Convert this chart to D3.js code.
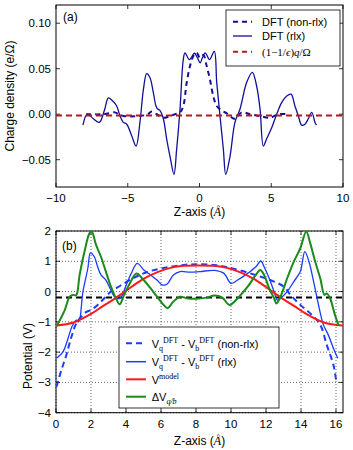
<!DOCTYPE html>
<html>
<head>
<meta charset="utf-8">
<script src="https://cdn.jsdelivr.net/npm/d3@7"></script>
<style>
  body { margin: 0; background: #fff; }
  text { font-family: "Liberation Sans", Arial, sans-serif; fill: #000; }
  .tick-label { font-size: 11.5px; }
  .axis-label { font-size: 12px; }
  .legend-text { font-size: 11px; }
  .math { font-family: "Liberation Serif", "DejaVu Serif", serif; }
</style>
</head>
<body>
<div id="wrapper"></div>
<script>
// ---- panel (a): charge density ----
const rlxZ = [-8.12, -7.82, -7.4, -6.98, -6.63, -6.35, -6.08, -5.77, -5.54, -5.31, -5.07, -4.72, -4.42, -4.15, -3.91, -3.68, -3.45, -3.22, -2.98, -2.75, -2.52, -2.29, -2.06, -1.78, -1.59, -1.36, -1.13, -1.01, -0.7, -0.35, -0.15, 0.05, 0.2, 0.4, 0.7, 1.03, 1.2, 1.43, 1.66, 1.83, 2.13, 2.47, 2.82, 3.29, 3.68, 3.98, 4.22, 4.45, 4.68, 5.03, 5.38, 5.73, 6.08, 6.38, 6.65, 6.89, 7.12, 7.35, 7.58, 7.82, 8.05, 8.15]
const rlxRho = [-0.012, 0.0, -0.005, -0.009, 0.004, 0.018, 0.015, 0.009, -0.002, -0.009, -0.011, -0.024, -0.035, -0.009, 0.027, 0.0445, 0.040, 0.024, 0.007, 0.004, -0.005, -0.027, -0.046, -0.066, -0.038, 0.005, 0.06, 0.0675, 0.060, 0.067, 0.062, 0.0565, 0.062, 0.0675, 0.060, 0.069, 0.035, -0.002, -0.038, -0.066, -0.046, -0.009, 0.0055, 0.035, 0.046, 0.031, 0.0055, -0.035, -0.027, -0.015, 0.0, 0.013, 0.02, 0.022, 0.009, -0.002, -0.012, -0.011, -0.005, 0.002, -0.009, -0.012]
const nonRlxZ = [-7.9, -6.7, -5.89, -5.65, -5.3, -4.15, -3.6, -3.33, -2.98, -2.52, -2.06, -1.71, -1.36, -1.13, -0.89, -0.66, -0.43, -0.2, 0.03, 0.27, 0.5, 0.73, 0.96, 1.2, 1.55, 1.9, 2.4, 2.59, 2.94, 3.52, 4.2, 4.91, 5.5, 6.1]
const nonRlxRho = [0.0, 0.0, 0.002, 0.0, -0.002, -0.002, 0.0, 0.003, 0.0, -0.004, -0.002, 0.0, 0.002, 0.009, 0.035, 0.053, 0.064, 0.0675, 0.062, 0.065, 0.053, 0.038, 0.02, 0.009, 0.004, 0.001, -0.005, -0.004, 0.002, 0.0, -0.002, -0.004, 0.0, 0.0]
const modelRho = -0.0015
const rhoXTicks = [-10, -5, 0, 5, 10]
const rhoYTicks = [-0.05, 0.0, 0.05, 0.10]

// ---- panel (b): potential ----
const potNonRlxZ = [0.03, 0.31, 0.59, 0.88, 1.16, 1.44, 1.72, 2.0, 2.38, 2.76, 3.14, 3.7, 4.27, 4.8, 5.4, 6.34, 7.28, 8.03, 9.07, 9.82, 10.76, 11.7, 12.46, 13.02, 13.4, 13.96, 14.53, 15.1, 15.47, 15.85, 16.03]
const potNonRlxV = [-3.14, -2.59, -2.1, -1.5, -1.05, -0.83, -0.68, -0.61, -0.44, -0.22, 0.0, 0.2, 0.4, 0.55, 0.68, 0.8, 0.88, 0.9, 0.88, 0.8, 0.66, 0.49, 0.33, 0.16, -0.11, -0.44, -0.72, -1.1, -1.76, -2.42, -3.03]
const potRlxZ = [0.03, 0.41, 0.69, 0.91, 1.16, 1.3, 1.54, 1.82, 1.97, 2.19, 2.38, 2.57, 2.85, 3.14, 3.42, 3.7, 4.0, 4.3, 4.64, 5.02, 5.4, 5.77, 6.06, 6.34, 6.71, 7.09, 7.66, 8.22, 9.07, 9.6, 10.0, 10.38, 10.95, 11.42, 11.7, 11.89, 12.18, 12.46, 12.64, 12.83, 13.21, 13.59, 13.96, 14.22, 14.45, 14.72, 15.0, 15.28, 15.56, 15.85, 16.1]
const potRlxV = [-2.2, -1.98, -1.54, -1.16, -0.94, -1.0, 0.0, 0.77, 1.28, 1.15, 0.82, 0.55, 0.38, 0.05, -0.22, -0.2, 0.2, 0.6, 0.93, 0.71, 0.55, 0.38, 0.22, 0.24, 0.55, 0.66, 0.64, 0.66, 0.7, 0.6, 0.27, 0.38, 0.6, 0.82, 1.01, 0.82, 0.44, 0.0, -0.28, -0.22, 0.0, 0.33, 0.66, 1.32, 1.0, 0.33, -0.44, -1.1, -1.43, -1.87, -2.2]
const modelZ = [0, 1, 2, 2.7, 3.45, 4.3, 5.0, 5.8, 6.6, 7.4, 8.15, 8.9, 9.7, 10.5, 11.3, 12.0, 12.85, 13.6, 14.3, 15.3, 16.4]
const modelV = [-1.12, -1.02, -0.74, -0.47, -0.2, 0.15, 0.42, 0.64, 0.79, 0.85, 0.86, 0.85, 0.79, 0.64, 0.42, 0.15, -0.2, -0.47, -0.74, -1.02, -1.12]
const deltaZ = [0.03, 0.5, 0.78, 0.97, 1.15, 1.35, 1.63, 1.91, 2.04, 2.29, 2.57, 2.85, 3.14, 3.42, 3.64, 3.89, 4.17, 4.6, 4.92, 5.4, 5.77, 6.15, 6.38, 6.71, 7.09, 7.47, 8.03, 8.6, 9.07, 9.5, 9.92, 10.38, 10.95, 11.42, 11.67, 11.89, 12.18, 12.46, 12.6, 12.83, 13.21, 13.59, 13.96, 14.3, 14.53, 14.81, 15.1, 15.34, 15.47, 15.66, 15.94, 16.13]
const deltaV = [-1.15, -0.61, -0.17, -0.11, -0.12, 0.55, 1.32, 1.92, 1.98, 1.54, 1.15, 0.66, 0.16, -0.22, -0.42, -0.11, 0.22, 0.6, 0.44, 0.11, -0.17, -0.44, -0.55, -0.33, -0.17, -0.22, -0.24, -0.2, -0.13, -0.2, -0.44, -0.22, 0.16, 0.55, 0.71, 0.55, 0.11, -0.22, -0.39, -0.17, 0.44, 0.99, 1.43, 1.98, 1.59, 0.99, 0.44, -0.11, -0.06, -0.22, -0.77, -1.1]
const alignV = -0.2
const potXTicks = [0, 2, 4, 6, 8, 10, 12, 14, 16]
const potYTicks = [-4, -3, -2, -1, 0, 1, 2]

function drawChart() {
  const width = 353
  const height = 450

  const svg = d3.select("#wrapper")
    .append("svg")
      .attr("width", width)
      .attr("height", height)

  const zip = (xs, ys) => xs.map((x, i) => [x, ys[i]])

  // adds text made of pieces: normal, serif, sub and sup
  function richText(sel, parts) {
    let shift = 0
    parts.forEach(p => {
      const target = p.sub ? 3 : p.sup ? -5 : 0
      const t = sel.append("tspan").text(p.t).attr("dy", target - shift)
      shift = target
      if (p.serif) t.attr("class", "math")
      if (p.italic) t.style("font-style", "italic")
      if (p.size) t.style("font-size", p.size + "px")
    })
  }

  function drawFrame(g, x, y, xTicks, yTicks, xFmt, yFmt, grid) {
    const [x0, x1] = x.range()
    const [y0, y1] = y.range()
    if (grid) {
      g.append("g").selectAll("line").data(xTicks).join("line")
        .attr("x1", d => x(d)).attr("x2", d => x(d))
        .attr("y1", y1).attr("y2", y0)
        .attr("stroke", "#000").attr("stroke-width", 0.6)
        .attr("stroke-dasharray", "1,2")
      g.append("g").selectAll("line").data(yTicks).join("line")
        .attr("x1", x0).attr("x2", x1)
        .attr("y1", d => y(d)).attr("y2", d => y(d))
        .attr("stroke", "#000").attr("stroke-width", 0.6)
        .attr("stroke-dasharray", "1,2")
    }
    const tk = 4
    g.append("g").selectAll("path").data(xTicks).join("path")
      .attr("d", d => `M${x(d)},${y0}v${-tk}M${x(d)},${y1}v${tk}`)
      .attr("stroke", "#000").attr("stroke-width", 0.8)
    g.append("g").selectAll("path").data(yTicks).join("path")
      .attr("d", d => `M${x0},${y(d)}h${tk}M${x1},${y(d)}h${-tk}`)
      .attr("stroke", "#000").attr("stroke-width", 0.8)
    g.append("rect")
      .attr("x", x0).attr("y", y1)
      .attr("width", x1 - x0).attr("height", y0 - y1)
      .attr("fill", "none").attr("stroke", "#000").attr("stroke-width", 1)
    g.append("g").selectAll("text").data(xTicks).join("text")
      .attr("class", "tick-label")
      .attr("x", d => x(d)).attr("y", y0 + 15)
      .attr("text-anchor", "middle")
      .text(xFmt)
    g.append("g").selectAll("text").data(yTicks).join("text")
      .attr("class", "tick-label")
      .attr("x", x0 - 5).attr("y", d => y(d) + 4)
      .attr("text-anchor", "end")
      .text(yFmt)
  }

  const minus = s => s.replace("-", "\u2212")
  const line = (x, y) => d3.line()
    .x(d => x(d[0])).y(d => y(d[1]))
    .curve(d3.curveCatmullRom.alpha(0.5))

  // ---------- (a) ----------
  const xA = d3.scaleLinear().domain([-10, 10]).range([56, 343])
  const yA = d3.scaleLinear().domain([-0.08, 0.12]).range([187, 5])
  const gA = svg.append("g")

  svg.append("defs").append("clipPath").attr("id", "clipA")
    .append("rect").attr("x", 56).attr("y", 5).attr("width", 287).attr("height", 182)

  drawFrame(gA, xA, yA, rhoXTicks, rhoYTicks,
    d => minus(String(d)), d => minus(d3.format(".2f")(d)), false)

  const plotA = gA.append("g").attr("clip-path", "url(#clipA)")
  const navy = "#10109a"
  plotA.append("path")
    .attr("d", line(xA, yA)(zip(nonRlxZ, nonRlxRho)))
    .attr("fill", "none").attr("stroke", navy).attr("stroke-width", 2)
    .attr("stroke-dasharray", "5,4")
  plotA.append("path")
    .attr("d", line(xA, yA)(zip(rlxZ, rlxRho)))
    .attr("fill", "none").attr("stroke", navy).attr("stroke-width", 1.3)
  plotA.append("path")
    .attr("d", line(xA, yA)([[-10, modelRho], [10, modelRho]]))
    .attr("fill", "none").attr("stroke", "#b01c1c").attr("stroke-width", 2)
    .attr("stroke-dasharray", "6,4")

  gA.append("text").attr("class", "axis-label").attr("x", 63).attr("y", 21).text("(a)")
  gA.append("text").attr("class", "axis-label")
    .attr("transform", "translate(14,96) rotate(-90)")
    .attr("text-anchor", "middle")
    .text("Charge density (e/\u03a9)")
  const xlabA = gA.append("text").attr("class", "axis-label")
    .attr("x", 199.5).attr("y", 216).attr("text-anchor", "middle")
  richText(xlabA, [{t: "Z-axis ("}, {t: "\u00c5", serif: true, italic: true}, {t: ")"}])

  // legend (a)
  const legA = gA.append("g")
  legA.append("rect").attr("x", 226).attr("y", 10).attr("width", 114).attr("height", 56)
    .attr("fill", "#fff").attr("stroke", "#000").attr("stroke-width", 0.8)
  const legAItems = [
    {y: 21.7, color: navy, dash: "5,4", w: 2},
    {y: 36, color: navy, dash: null, w: 1.3},
    {y: 51.7, color: "#b01c1c", dash: "5,4", w: 2},
  ]
  legA.selectAll("line").data(legAItems).join("line")
    .attr("x1", 233).attr("x2", 252)
    .attr("y1", d => d.y).attr("y2", d => d.y)
    .attr("stroke", d => d.color).attr("stroke-width", d => d.w)
    .attr("stroke-dasharray", d => d.dash)
  legA.append("text").attr("class", "legend-text").attr("x", 262).attr("y", 25.5).text("DFT (non-rlx)")
  legA.append("text").attr("class", "legend-text").attr("x", 262).attr("y", 40).text("DFT (rlx)")
  const lA3 = legA.append("text").attr("class", "legend-text math").attr("x", 262).attr("y", 55.5)
  richText(lA3, [
    {t: "(1\u22121/", serif: true}, {t: "\u03f5", serif: true, italic: true},
    {t: ")", serif: true}, {t: "q", serif: true, italic: true}, {t: "/\u03a9", serif: true}
  ])

  // ---------- (b) ----------
  const xB = d3.scaleLinear().domain([0, 16.4]).range([56, 343])
  const yB = d3.scaleLinear().domain([-4, 2]).range([412.7, 231])
  const gB = svg.append("g")

  svg.select("defs").append("clipPath").attr("id", "clipB")
    .append("rect").attr("x", 56).attr("y", 231).attr("width", 287).attr("height", 181.7)

  drawFrame(gB, xB, yB, potXTicks, potYTicks,
    d => String(d), d => minus(String(d)), true)

  const plotB = gB.append("g").attr("clip-path", "url(#clipB)")
  const blue = "#1a3cff"
  const red = "#ff1a1a"
  const green = "#1a8a1a"
  plotB.append("path")
    .attr("d", line(xB, yB)([[0, alignV], [16.4, alignV]]))
    .attr("fill", "none").attr("stroke", "#000").attr("stroke-width", 2)
    .attr("stroke-dasharray", "6,4")
  plotB.append("path")
    .attr("d", line(xB, yB)(zip(potNonRlxZ, potNonRlxV)))
    .attr("fill", "none").attr("stroke", blue).attr("stroke-width", 2)
    .attr("stroke-dasharray", "6,4")
  plotB.append("path")
    .attr("d", line(xB, yB)(zip(potRlxZ, potRlxV)))
    .attr("fill", "none").attr("stroke", blue).attr("stroke-width", 1.3)
  plotB.append("path")
    .attr("d", line(xB, yB)(zip(modelZ, modelV)))
    .attr("fill", "none").attr("stroke", red).attr("stroke-width", 2)
  plotB.append("path")
    .attr("d", line(xB, yB)(zip(deltaZ, deltaV)))
    .attr("fill", "none").attr("stroke", green).attr("stroke-width", 2)

  gB.append("text").attr("class", "axis-label").attr("x", 62).attr("y", 250).text("(b)")
  gB.append("text").attr("class", "axis-label")
    .attr("transform", "translate(32,356) rotate(-90)")
    .attr("text-anchor", "middle")
    .text("Potential (V)")
  const xlabB = gB.append("text").attr("class", "axis-label")
    .attr("x", 199.5).attr("y", 445).attr("text-anchor", "middle")
  richText(xlabB, [{t: "Z-axis ("}, {t: "\u00c5", serif: true, italic: true}, {t: ")"}])

  // legend (b)
  const legB = gB.append("g")
  legB.append("rect").attr("x", 119).attr("y", 327).attr("width", 160).attr("height", 81)
    .attr("fill", "#fff").attr("stroke", "#000").attr("stroke-width", 0.8)
  const legBItems = [
    {y: 343.3, color: blue, dash: "6,4", w: 2},
    {y: 361.7, color: blue, dash: null, w: 1.5},
    {y: 379.3, color: red, dash: null, w: 2},
    {y: 396.7, color: green, dash: null, w: 2},
  ]
  legB.selectAll("line").data(legBItems).join("line")
    .attr("x1", 126).attr("x2", 146)
    .attr("y1", d => d.y).attr("y2", d => d.y)
    .attr("stroke", d => d.color).attr("stroke-width", d => d.w)
    .attr("stroke-dasharray", d => d.dash)
  const vqvb = tail => [
    {t: "V"}, {t: "q", serif: true, sub: true, size: 8}, {t: "DFT", serif: true, sup: true, size: 8},
    {t: " - V"}, {t: "b", serif: true, sub: true, size: 8}, {t: "DFT", serif: true, sup: true, size: 8},
    {t: tail}
  ]
  richText(legB.append("text").attr("class", "legend-text").attr("x", 151.7).attr("y", 347.5),
    vqvb(" (non-rlx)"))
  richText(legB.append("text").attr("class", "legend-text").attr("x", 151.7).attr("y", 365.9),
    vqvb(" (rlx)"))
  richText(legB.append("text").attr("class", "legend-text").attr("x", 151.7).attr("y", 383.5),
    [{t: "V"}, {t: "model", serif: true, sup: true, size: 8}])
  richText(legB.append("text").attr("class", "legend-text").attr("x", 151.7).attr("y", 400.9),
    [{t: "\u0394V"}, {t: "q/b", serif: true, italic: true, sub: true, size: 8}])
}
drawChart()
</script>
</body>
</html>
